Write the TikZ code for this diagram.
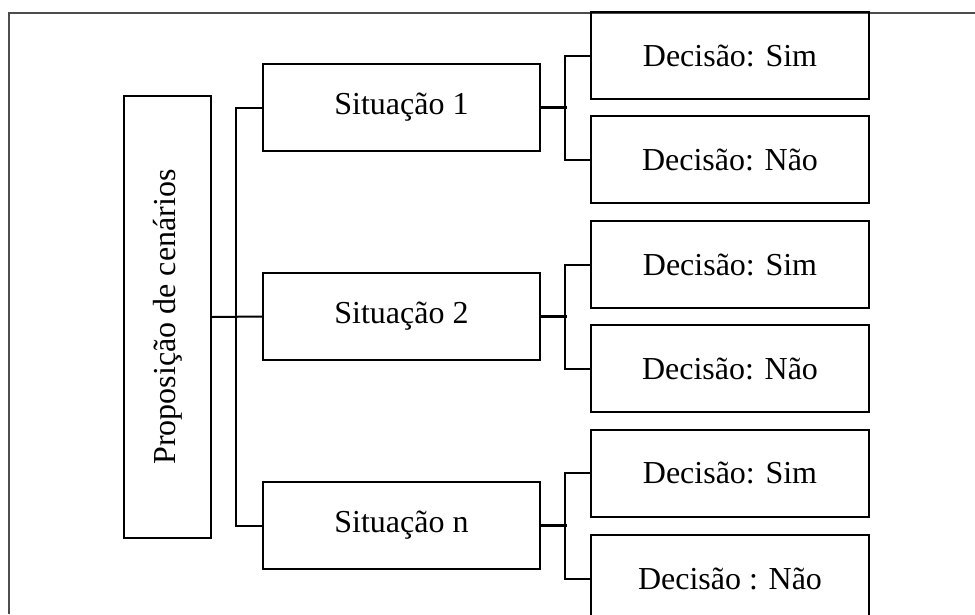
\documentclass[tikz,border=0pt]{standalone}
\usepackage{fontspec}
\setmainfont{Liberation Serif}
\begin{document}
\begin{tikzpicture}[x=1pt,y=-1pt,
  box/.style={draw=black,line width=2pt,rectangle,inner sep=0pt,
    font=\fontsize{32}{38}\selectfont},
  sitbox/.style={box,minimum width=277pt,minimum height=87pt},
  decbox/.style={box,minimum width=278pt,minimum height=87pt},
  link/.style={line width=2pt},
  trunk/.style={line width=3pt}]
\useasboundingbox (0,0) rectangle (975,614);
% outer frame (open on the right and at the bottom)
\draw[black!70,line width=1.2pt] (975,13) -- (9,13) -- (9,614);

% root
\node[box,minimum width=87pt,minimum height=442pt] (root) at (167.5,317)
  {\rotatebox{90}{Proposição de cenários}};

% situations
\node[sitbox] (s1) at (401.5,107.5) {Situação 1};
\node[sitbox] (s2) at (401.5,316.5) {Situação 2};
\node[sitbox] (sn) at (401.5,525.5) {Situação n};

% decisions
\node[decbox] (d1a) at (730,55.5)  {Decisão: Sim};
\node[decbox] (d1b) at (730,159.5) {Decisão: Não};
\node[decbox] (d2a) at (730,264.5) {Decisão: Sim};
\node[decbox] (d2b) at (730,368.5) {Decisão: Não};
\node[decbox] (dna) at (730,473)   {Decisão: Sim};
\node[decbox] (dnb) at (730,578.5) {Decisão : Não};

% root to situations
\draw[link] (root.east) -- (s2.west);
\draw[link] (s1.west) -- ++(-26,0) coordinate (r) |- (sn.west);

% situations to decisions
\foreach \s/\a/\b in {s1/d1a/d1b, s2/d2a/d2b, sn/dna/dnb}{
  \draw[trunk] (\s.east) -- ++(26,0);
  \draw[link] (\a.west) -- ++(-25,0) |- (\b.west);
}
\end{tikzpicture}
\end{document}
